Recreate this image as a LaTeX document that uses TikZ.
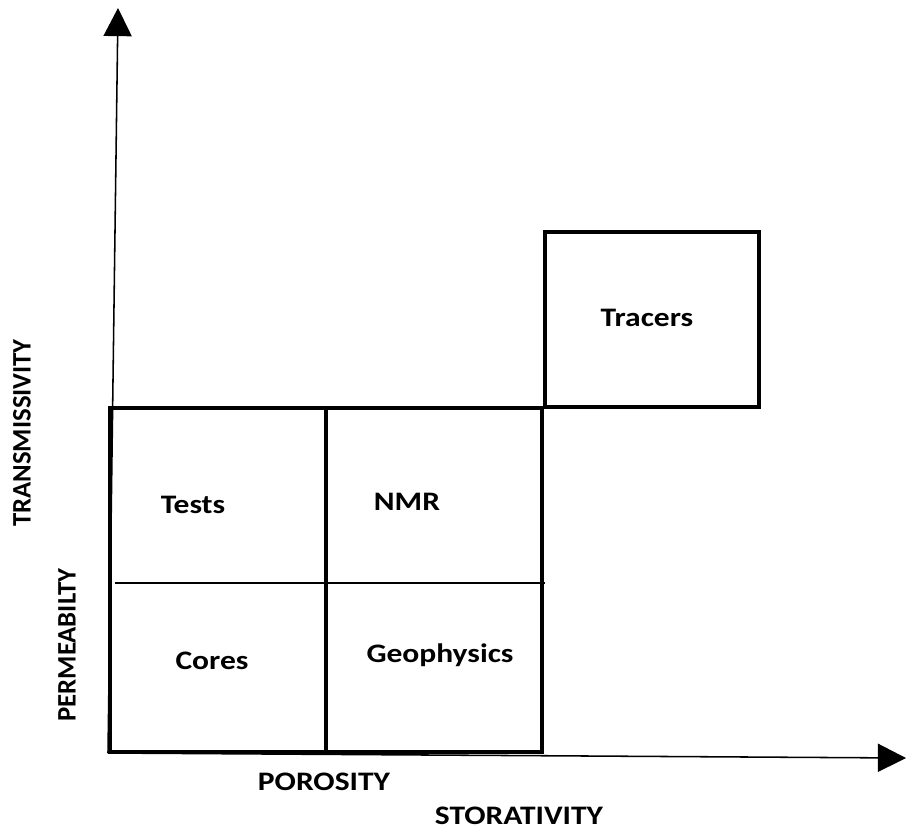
\documentclass[tikz,border=0pt]{standalone}
\usepackage{fontspec}
\setmainfont{Carlito}
\usetikzlibrary{arrows.meta}
\newcommand{\wdtxt}[1]{\scalebox{1.18}[1]{#1}}

\begin{document}
\begin{tikzpicture}[x=0.025cm, y=-0.025cm]
\tikzset{lbl/.style={font=\fontsize{19}{23}\selectfont\bfseries, inner sep=0pt},
  frame/.style={draw, line width=2.2pt, rectangle, inner sep=0pt},
  axis/.style={line width=1.1pt, -{Triangle[length=20pt, width=20pt]}}}
\useasboundingbox (0,0) rectangle (908,831);
% axes
\coordinate (O) at (108,753);
\coordinate (ytip) at (118,8);
\coordinate (xtip) at (906,758);
\draw[axis] (O) -- (ytip);
\draw[axis] (O) -- (xtip);
% boxes
\node[frame, minimum width=432*0.025cm, minimum height=344*0.025cm] (grid) at (326,580) {};
\node[frame, minimum width=214*0.025cm, minimum height=175*0.025cm] (trc) at (652,319.5) {};
\coordinate (midL) at (115,583);
\coordinate (midR) at (545,583);
\draw[line width=2.2pt] (grid.north) -- (grid.south);
\draw[line width=1pt] (midL) -- (midR);
% labels
\node[lbl] (tests) at (193,505) {\wdtxt{Tests}};
\node[lbl] (nmr) at (407,502) {\wdtxt{NMR}};
\node[lbl] (cores) at (212,661) {\wdtxt{Cores}};
\node[lbl] (geo) at (440,655) {\wdtxt{Geophysics}};
\node[lbl] (tracers) at (647,318) {\wdtxt{Tracers}};
\node[lbl, rotate=90] (trans) at (22,433) {TRANSMISSIVITY};
\node[lbl, rotate=90] (perm) at (67,645) {PERMEABILTY};
\node[lbl] (por) at (324,782) {\wdtxt{POROSITY}};
\node[lbl] (stor) at (519,816) {\wdtxt{STORATIVITY}};
\end{tikzpicture}
\end{document}
